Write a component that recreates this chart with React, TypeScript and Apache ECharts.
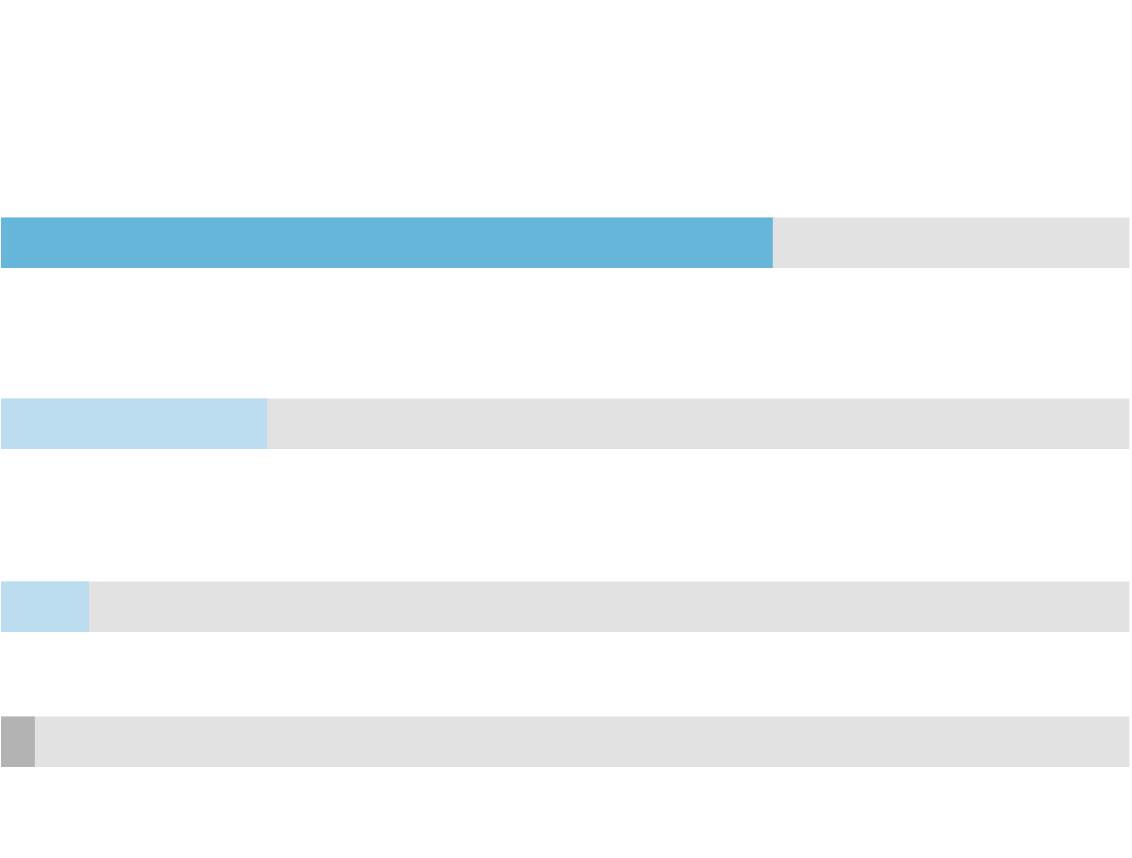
import React, { useEffect, useRef } from "react";
import * as echarts from "echarts";

const categories = ["Item 1", "Item 2", "Item 3", "Item 4"];
const values = [68.4, 23.6, 7.8, 3.0];
const maxValue = 100;
const barColors = ["#66b6da", "#bcddef", "#bcddef", "#b3b3b3"];
const trackColor = "#e2e2e2";
const barCenters = [242.8, 423.8, 606.8, 741.8];

export default function App() {
  const ref = useRef<HTMLDivElement>(null);
  useEffect(() => {
    if (!ref.current) return;
    const chart = echarts.init(ref.current, undefined, { renderer: "svg" });
    const h = 50.5;
    const grids = categories.map((_, i) => ({
      left: 1,
      right: 2.6,
      top: barCenters[i] - h / 2,
      height: h,
      containLabel: false,
    }));
    const xAxes = categories.map((_, i) => ({
      type: "value" as const,
      gridIndex: i,
      min: 0,
      max: maxValue,
      show: false,
    }));
    const yAxes = categories.map((c, i) => ({
      type: "category" as const,
      gridIndex: i,
      data: [c],
      show: false,
    }));
    const series = categories.map((_, i) => ({
      type: "bar" as const,
      xAxisIndex: i,
      yAxisIndex: i,
      data: [values[i]],
      barWidth: "100%",
      showBackground: true,
      backgroundStyle: { color: trackColor },
      itemStyle: { color: barColors[i] },
      silent: true,
    }));
    chart.setOption({
      animation: false,
      grid: grids,
      xAxis: xAxes,
      yAxis: yAxes,
      series,
    });
    return () => chart.dispose();
  }, []);
  return (
    <div
      ref={ref}
      style={{ position: "absolute", left: 0, top: 0, width: 1132, height: 858, background: "#ffffff" }}
    />
  );
}
